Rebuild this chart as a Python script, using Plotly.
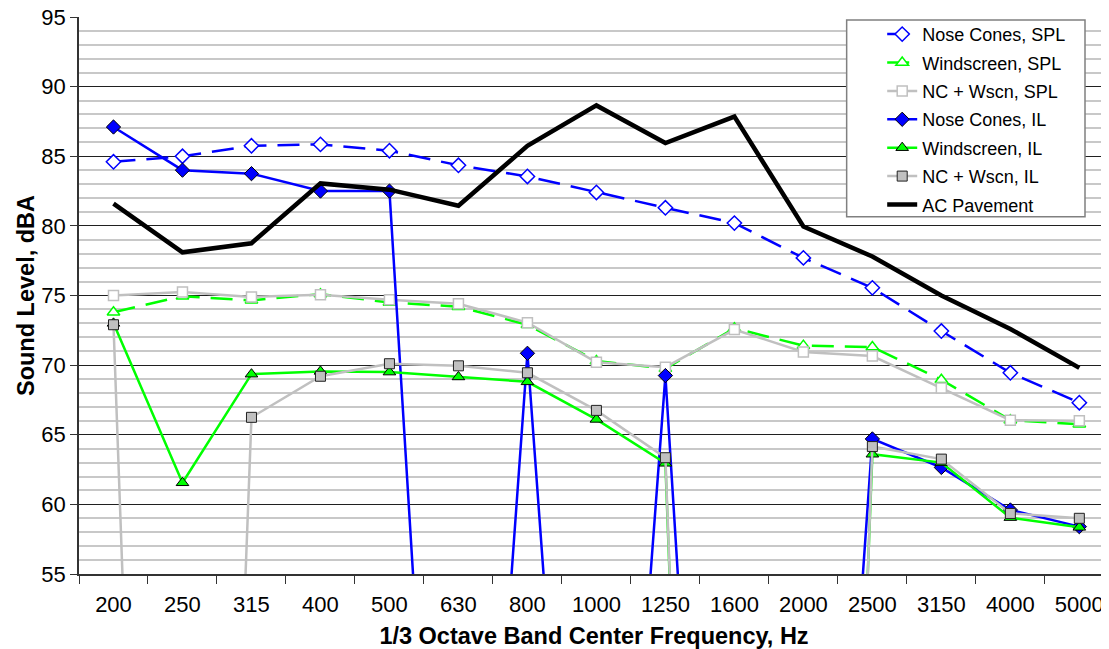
import plotly.graph_objects as go

# 1/3 octave band centre frequencies (Hz)
freqs = ['200', '250', '315', '400', '500', '630', '800', '1000', '1250',
         '1600', '2000', '2500', '3150', '4000', '5000']

# sound pressure levels, dBA
nc_spl = [84.6, 85.0, 85.75, 85.85, 85.4, 84.35, 83.55, 82.4, 81.3,
          80.2, 77.7, 75.55, 72.45, 69.45, 67.3]
ws_spl = [73.8, 74.95, 74.65, 75.1, 74.5, 74.2, 72.9, 70.3, 69.75,
          72.65, 71.4, 71.3, 68.95, 66.05, 65.75]
ncws_spl = [75.0, 75.25, 74.9, 75.05, 74.7, 74.4, 73.05, 70.2, 69.85,
            72.55, 70.95, 70.65, 68.35, 66.05, 66.0]

# insertion loss series (values far below the axis are off-scale points)
nc_il = [87.1, 84.0, 83.75, 82.5, 82.5, 2.0, 70.85, 3.0, 69.25,
         -10.0, -6.0, 64.7, 62.65, 59.6, 58.4]
ws_il = [73.0, 61.55, 69.35, 69.55, 69.5, 69.15, 68.8, 66.1, 62.95,
         -70.0, -65.0, 63.6, 63.0, 59.05, 58.35]
ncws_il = [72.9, -65.0, 66.25, 69.2, 70.1, 69.95, 69.45, 66.75, 63.35,
           -70.0, -75.0, 64.15, 63.25, 59.35, 59.0]

# reference pavement
ac_pave = [81.6, 78.1, 78.75, 83.05, 82.6, 81.45, 85.75, 88.65, 85.95,
           87.85, 79.95, 77.8, 75.0, 72.6, 69.8]

BLUE = '#0000ff'
GREEN = '#00ff00'
GRAY = '#c0c0c0'
FONT = 'Arial, Liberation Sans, sans-serif'
DASH = '22px,11px'

fig = go.Figure()

series = [
    ('Nose Cones, SPL', nc_spl, dict(color=BLUE, width=2.5, dash=DASH),
     dict(symbol='diamond', size=11, color='white', line=dict(color=BLUE, width=1.5))),
    ('Windscreen, SPL', ws_spl, dict(color=GREEN, width=2.5, dash=DASH),
     dict(symbol='triangle-up', size=11, color='white', line=dict(color=GREEN, width=1.5))),
    ('NC + Wscn, SPL', ncws_spl, dict(color=GRAY, width=2.5),
     dict(symbol='square', size=10, color='white', line=dict(color=GRAY, width=1.5))),
    ('Nose Cones, IL', nc_il, dict(color=BLUE, width=2.5),
     dict(symbol='diamond', size=11, color=BLUE, line=dict(color='black', width=1))),
    ('Windscreen, IL', ws_il, dict(color=GREEN, width=2.5),
     dict(symbol='triangle-up', size=11, color=GREEN, line=dict(color='black', width=1))),
    ('NC + Wscn, IL', ncws_il, dict(color=GRAY, width=2.5),
     dict(symbol='square', size=10, color=GRAY, line=dict(color='#202020', width=1))),
]

for i, (name, vals, line, marker) in enumerate(series):
    fig.add_trace(go.Scatter(x=freqs, y=vals, name=name, mode='lines+markers',
                             line=line, marker=marker, legendgroup=str(i)))

fig.add_trace(go.Scatter(x=freqs, y=ac_pave, name='AC Pavement', mode='lines',
                         line=dict(color='black', width=4.5), legendgroup='ac'))

# legend frame
fig.add_shape(type='rect', xref='paper', yref='paper',
              x0=0.7453, x1=0.9767, y0=0.6415, y1=0.9946,
              line=dict(color='#808080', width=1.5), fillcolor='white', layer='above')

# page body adds an 8px offset, so the figure is sized to fit the window
fig.update_layout(
    width=1101, height=641,
    margin=dict(l=71, r=0, t=9, b=75, autoexpand=False),
    paper_bgcolor='white', plot_bgcolor='white',
    font=dict(family=FONT, size=22, color='black'),
    showlegend=True,
    legend=dict(x=0.7798, y=1.002, xanchor='left', yanchor='top',
                bgcolor='rgba(0,0,0,0)', borderwidth=0,
                font=dict(family=FONT, size=18, color='black'),
                tracegroupgap=2),
    xaxis=dict(type='category', range=[-0.5, 14.43], automargin=False,
               tickson='boundaries', ticks='outside', ticklen=8,
               tickcolor='#333333', showline=True, linecolor='#333333', linewidth=1.5,
               showgrid=False, ticklabelstandoff=10, ticklabeloverflow='allow',
               tickfont=dict(size=22),
               title=dict(text='<b>1/3 Octave Band Center Frequency, Hz</b>',
                          font=dict(size=23.5), standoff=13)),
    yaxis=dict(range=[55, 95], dtick=5, ticks='outside', ticklen=7, automargin=False,
               tickcolor='#333333', showline=True, linecolor='#333333', linewidth=1.5,
               showgrid=True, gridcolor='#202020', gridwidth=1,
               ticklabeloverflow='allow',
               minor=dict(dtick=1, showgrid=True, gridcolor='#c8c8c8', gridwidth=1.5),
               tickfont=dict(size=22),
               title=dict(text='<b>Sound Level, dBA</b>', font=dict(size=23.5), standoff=0)),
)

fig.write_html("out.html")
